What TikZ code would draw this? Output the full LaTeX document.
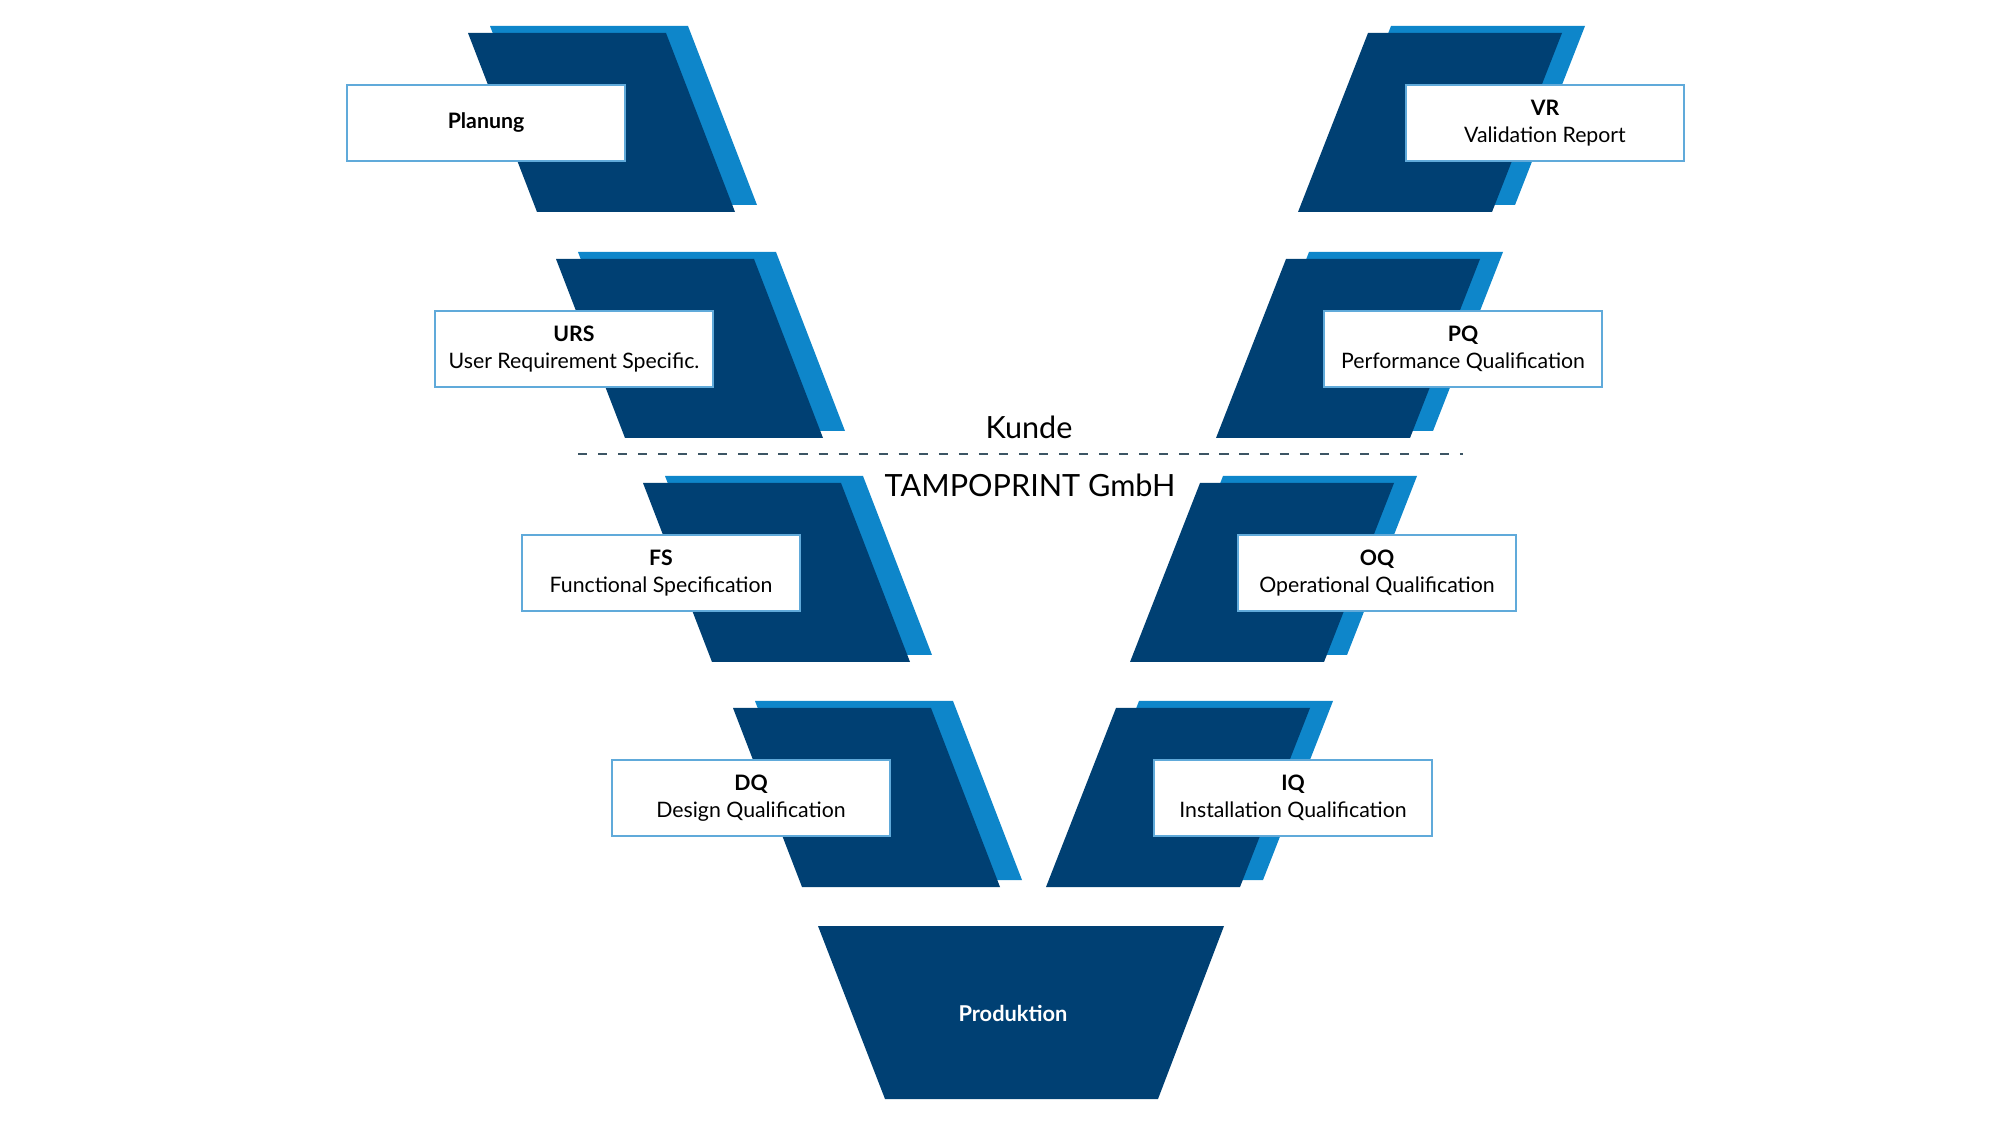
\documentclass[tikz,border=0pt]{standalone}
\usepackage{fontspec}
\setmainfont{Lato}

\definecolor{vdark}{RGB}{0,64,115}
\definecolor{vlight}{RGB}{14,134,202}
\definecolor{vframe}{RGB}{96,170,218}
\definecolor{vline}{RGB}{60,85,100}

\tikzset{
  back/.style={fill=vlight},
  front/.style={fill=vdark},
  stagebox/.style={draw=vframe, line width=0.4pt, fill=white, inner sep=0pt,
    minimum width=2.78cm, minimum height=0.76cm, align=center,
    font=\fontsize{6.05}{7.6}\selectfont},
  side/.style={font=\fontsize{8.7}{11}\selectfont}
}

\begin{document}
\begin{tikzpicture}[x=0.01cm, y=-0.01cm]
  \useasboundingbox (0,0) rectangle (2000,1125);

  % left arm of the V
  \foreach \x/\y/\id/\txt in {468/33/plan/{\textbf{Planung}},
      556/259/urs/{\textbf{URS}\\User Requirement Specific.},
      643/483/fs/{\textbf{FS}\\Functional Specification},
      733/708/dq/{\textbf{DQ}\\Design Qualification}}{
    \fill[back] (\x+22,\y-7) -- ++(198,0) -- ++(69,179) -- ++(-198,0) -- cycle;
    \fill[front] (\x,\y) -- ++(198,0) -- ++(69,179) -- ++(-198,0) -- cycle;
    \node[stagebox] (\id) at (\x+18,\y+90) {\txt};
  }

  % right arm of the V
  \foreach \x/\y/\id/\txt in {1368/33/vr/{\textbf{VR}\\Validation Report},
      1286/259/pq/{\textbf{PQ}\\Performance Qualification},
      1200/483/oq/{\textbf{OQ}\\Operational Qualification},
      1116/708/iq/{\textbf{IQ}\\Installation Qualification}}{
    \fill[back] (\x+23,\y-7) -- ++(194,0) -- ++(-70,179) -- ++(-194,0) -- cycle;
    \fill[front] (\x,\y) -- ++(194,0) -- ++(-70,179) -- ++(-194,0) -- cycle;
    \node[stagebox] (\id) at (\x+177,\y+90) {\txt};
  }

  \fill[front] (818,926) -- (1224,926) -- (1158,1099) -- (885,1099) -- cycle;
  \node[text=white, font=\fontsize{6.2}{7.6}\selectfont\bfseries] (prod) at (1013,1013) {Produktion};

  \coordinate (sepL) at (578,454);
  \coordinate (sepR) at (1463,454);
  \draw[vline, line width=0.55pt, dash pattern=on 2.6pt off 3.1pt] (sepL) -- (sepR);
  \node[side] (kunde) at (1029,427) {Kunde};
  \node[side] (firma) at (1030,485) {TAMPOPRINT GmbH};
\end{tikzpicture}
\end{document}
